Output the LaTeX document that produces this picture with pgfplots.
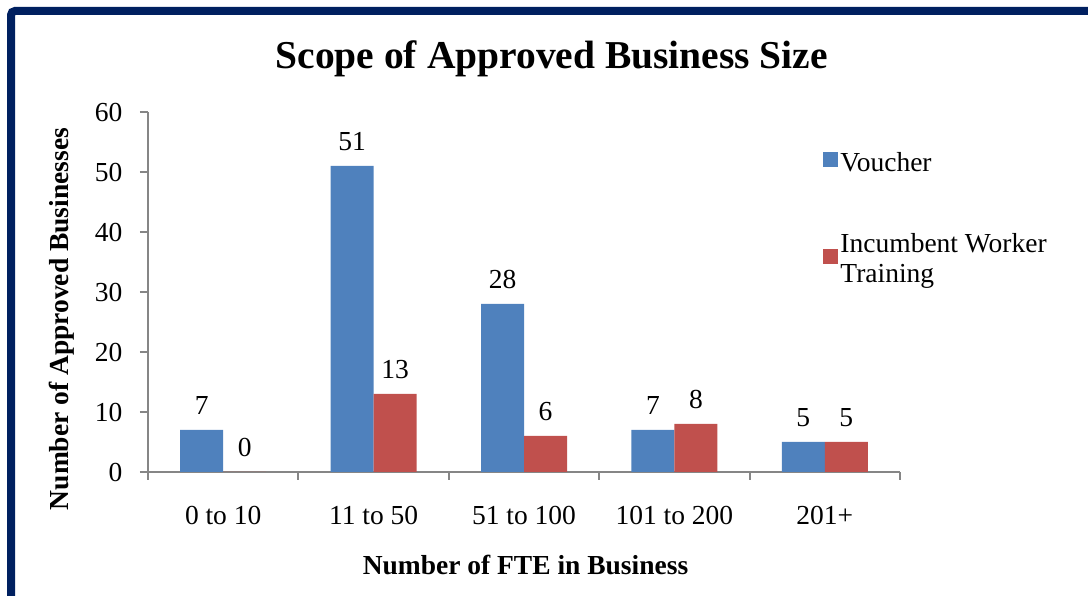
\documentclass[border=0pt]{standalone}
\usepackage{pgfplots}
\pgfplotsset{compat=1.18}
\usepackage{fontspec}
\setmainfont{Liberation Serif}
\definecolor{vblue}{HTML}{4F81BD}
\definecolor{ired}{HTML}{C0504D}
\definecolor{navy}{HTML}{002060}
\definecolor{axgray}{HTML}{868686}
\newcommand{\lblfont}{\fontsize{27.5}{30}\selectfont}
\begin{document}
\begin{tikzpicture}[x=1pt,y=1pt]
\useasboundingbox (0pt,0pt) rectangle (1088pt,596pt);
\draw[navy, line width=8pt, rounded corners=4pt] (11pt,-30pt) -- (11pt,585pt) -- (1120pt,585pt);
\begin{axis}[
  at={(148pt,124pt)}, anchor=south west,
  scale only axis, width=752pt, height=360pt,
  ybar=0pt, bar width=43pt,
  xmin=-0.5, xmax=4.5, ymin=0, ymax=60,
  ytick={0,10,...,60},
  xtick={-0.5,0.5,...,4.5},
  x tick label as interval,
  xticklabels={0 to 10,11 to 50,51 to 100,101 to 200,201+},
  axis x line*=bottom, axis y line*=left,
  axis line style={axgray, line width=2pt, -},
  tick style={axgray, line width=2pt},
  tick align=outside, major tick length=8pt,
  /pgf/number format/assume math mode=true,
  tick label style={font=\lblfont},
  xticklabel style={yshift=-23pt},
  yticklabel style={xshift=-14pt},
  title={\bfseries Scope of Approved Business Size},
  title style={font=\fontsize{39.5}{44}\selectfont, at={(axis description cs:0.537,1.130)}, anchor=center},
  xlabel={\bfseries Number of FTE in Business},
  xlabel style={font=\lblfont, at={(axis description cs:0.502,-0.258)}, anchor=center},
  ylabel={\bfseries Number of Approved Businesses},
  ylabel style={font=\lblfont, at={(axis description cs:-0.1144,0.425)}, anchor=center},
  nodes near coords,
  every node near coord/.append style={font=\lblfont, yshift=12pt, black},
  legend style={at={(rel axis cs:0.894,0.90)}, anchor=north west, draw=none, fill=none,
    font=\lblfont, row sep=57pt, nodes={align=left, inner sep=2pt}},
  legend cell align=left,
]
\addplot[fill=vblue, draw=none, legend image code/.code={\fill[vblue] (-3pt,-4.5pt) rectangle (12pt,10.5pt);}]
  coordinates {(0,7) (1,51) (2,28) (3,7) (4,5)};
\addlegendentry{Voucher}
\addplot[fill=ired, draw=none, legend image code/.code={\fill[ired] (-3pt,-4.5pt) rectangle (12pt,10.5pt);}]
  coordinates {(0,0) (1,13) (2,6) (3,8) (4,5)};
\addlegendentry{Incumbent Worker\\Training}
\end{axis}
\end{tikzpicture}
\end{document}
